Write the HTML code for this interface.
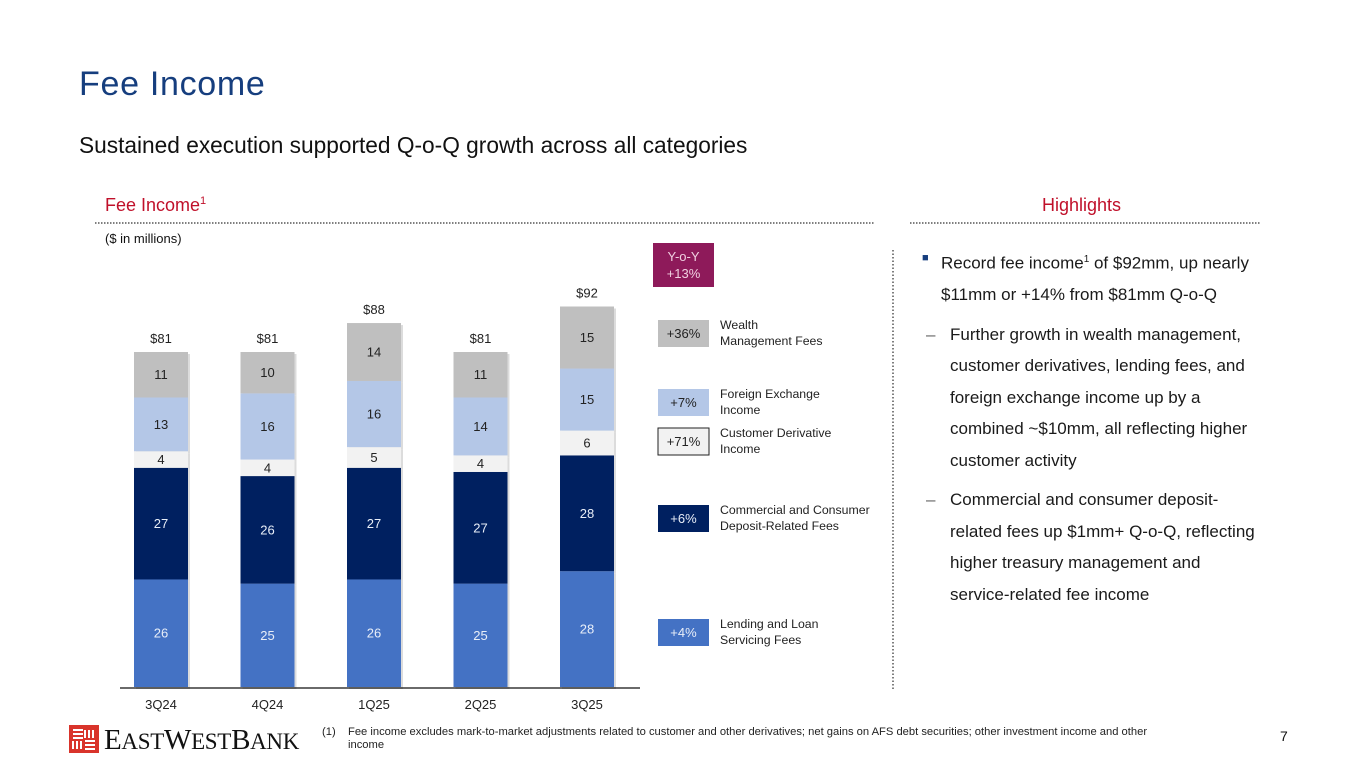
<!DOCTYPE html>
<html><head><meta charset="utf-8">
<style>
body{margin:0;width:1365px;height:768px;position:relative;background:#fff;font-family:"Liberation Sans",Arial,sans-serif;overflow:hidden}
.a{position:absolute;white-space:nowrap}
</style></head><body>
<div class="a" style="left:79px;top:65px;font-size:34px;color:#163e7e;letter-spacing:0.7px">Fee Income</div>
<div class="a" style="left:79px;top:132px;font-size:22.7px;color:#111">Sustained execution supported Q-o-Q growth across all categories</div>
<div class="a" style="left:105px;top:195px;font-size:18px;color:#c0102a">Fee Income<sup style="font-size:11px">1</sup></div>
<div class="a" style="left:1042px;top:195px;font-size:18px;color:#c0102a">Highlights</div>
<div class="a" style="left:105px;top:231px;font-size:13px;color:#111">($ in millions)</div>
<div class="a" style="left:653px;top:243px;width:61px;height:44px;background:#8e1a5a;color:#f0d0e0;font-size:13px;text-align:center;line-height:17px;padding-top:5px;box-sizing:border-box">Y-o-Y<br>+13%</div>
<div class="a" style="left:922px;top:244px;font-size:17px;color:#1a1a1a;line-height:31.5px;white-space:normal;width:340px">
<div style="position:relative;padding-left:19px"><span style="position:absolute;left:0;top:-1px;font-size:11px;color:#163e7e">■</span>Record fee income<sup style="font-size:10px">1</sup> of $92mm, up nearly $11mm or +14% from $81mm Q-o-Q</div>
<div style="position:relative;padding-left:28px;margin-top:8px"><span style="position:absolute;left:4px;color:#666">–</span>Further growth in wealth management, customer derivatives, lending fees, and foreign exchange income up by a combined ~$10mm, all reflecting higher customer activity</div>
<div style="position:relative;padding-left:28px;margin-top:8px"><span style="position:absolute;left:4px;color:#666">–</span>Commercial and consumer deposit-related fees up $1mm+ Q-o-Q, reflecting higher treasury management and service-related fee income</div>
</div>
<div class="a" style="left:322px;top:726px;font-size:11.2px;color:#222;white-space:normal;width:850px;line-height:13px"><span style="position:absolute;left:0">(1)</span><div style="margin-left:26px">Fee income excludes mark-to-market adjustments related to customer and other derivatives; net gains on AFS debt securities; other investment income and other income</div></div>
<div class="a" style="left:1280px;top:728px;font-size:14px;color:#111">7</div>
<div class="a" style="left:68px;top:724px;height:30px">
<svg width="32" height="30" style="position:absolute;left:0;top:0"><rect x="1" y="1" width="30" height="28" fill="#d9342b"/><g stroke="#fff" stroke-width="2" fill="none"><path d="M5 6h10M5 10h10M5 14h10M17 6v8M21 6v8M25 6v8M5 17v8M9 17v8M13 17v8M17 17h10M17 21h10M17 25h10"/></g></svg>
<span style="position:absolute;left:36px;top:0px;font-family:'Liberation Serif',serif;font-size:29px;color:#111;letter-spacing:-0.3px">E<span style="font-size:23px">AST</span>W<span style="font-size:23px">EST</span>B<span style="font-size:23px">ANK</span></span></div>
<svg id="chart" class="a" style="left:0;top:0" width="1365" height="768"></svg>
<script>
const categories=["3Q24","4Q24","1Q25","2Q25","3Q25"];
const lending=[26,25,26,25,28];
const deposit=[27,26,27,27,28];
const derivative=[4,4,5,4,6];
const fx=[13,16,16,14,15];
const wealth=[11,10,14,11,15];
const totals=["$81","$81","$88","$81","$92"];
const seriesNames=["lending","deposit","derivative","fx","wealth"];
const growth=["+4%","+6%","+71%","+7%","+36%"];
const legendLabels=[["Lending and Loan","Servicing Fees"],["Commercial and Consumer","Deposit-Related Fees"],["Customer Derivative","Income"],["Foreign Exchange","Income"],["Wealth","Management Fees"]];
const series=[lending,deposit,derivative,fx,wealth];
const colors=["#4472c4","#002060","#f2f2f2","#b4c7e7","#bfbfbf"];
const textColors=["#e8eef8","#e8eef8","#222","#222","#222"];
const NS="http://www.w3.org/2000/svg";
const svg=document.getElementById('chart');
const baseY=687, ppu=335/81, x0=161, step=106.5, bw=54;
const xS=i=>x0+i*step, yS=v=>baseY-v*ppu;
function mk(t,a){const e=document.createElementNS(NS,t);for(const k in a)e.setAttribute(k,a[k]);svg.appendChild(e);return e;}
let l=mk('line',{x1:95,y1:223,x2:875,y2:223,stroke:'#555','stroke-width':1.5,'stroke-dasharray':'1.5 1.5'});

l=mk('line',{x1:910,y1:223,x2:1260,y2:223,stroke:'#555','stroke-width':1.5,'stroke-dasharray':'1.5 1.5'});

l=mk('line',{x1:893,y1:250,x2:893,y2:690,stroke:'#555','stroke-width':1.5,'stroke-dasharray':'1.5 2'});

categories.forEach((c,i)=>{
  let cum=0;
  series.forEach((s,k)=>{
    const y1=yS(cum+s[i]), y0=yS(cum);
    const sh=mk('rect',{x:xS(i)-bw/2+2,y:y1+2,width:bw,height:y0-y1,fill:'#dcdcdc'});
    
    cum+=s[i];
  });
  cum=0;
  series.forEach((s,k)=>{
    const y1=yS(cum+s[i]), y0=yS(cum);
    const r=mk('rect',{x:xS(i)-bw/2,y:y1,width:bw,height:y0-y1,fill:colors[k]});
    
    
    const t=mk('text',{x:xS(i),y:(y0+y1)/2+4.5,'text-anchor':'middle','font-size':13,fill:textColors[k]});
    t.textContent=s[i];
    
    
    cum+=s[i];
  });
  const tt=mk('text',{x:xS(i),y:yS(cum)-9,'text-anchor':'middle','font-size':13,fill:'#222'});
  tt.textContent=totals[i];
  
  
  const xl=mk('text',{x:xS(i),y:709,'text-anchor':'middle','font-size':13,fill:'#222'});
  xl.textContent=c;
  
  
});
l=mk('line',{x1:120,y1:688,x2:640,y2:688,stroke:'#111','stroke-width':1.2});

const legY=[632,518,441,402,333];
legY.forEach((y,k)=>{
  const r=mk('rect',{x:658,y:y-13,width:51,height:27,fill:colors[k],stroke:k==2?'#222':'none','stroke-width':1});
  
  
  const t=mk('text',{x:683.5,y:y+5,'text-anchor':'middle','font-size':13,fill:textColors[k]});
  t.textContent=growth[k];
  
  
  legendLabels[k].forEach((ln,j)=>{
    const lt=mk('text',{x:720,y:y-4+j*16,'font-size':12.3,fill:'#222'});
    lt.textContent=ln;
    
    
  });
});
</script>
</body></html>
